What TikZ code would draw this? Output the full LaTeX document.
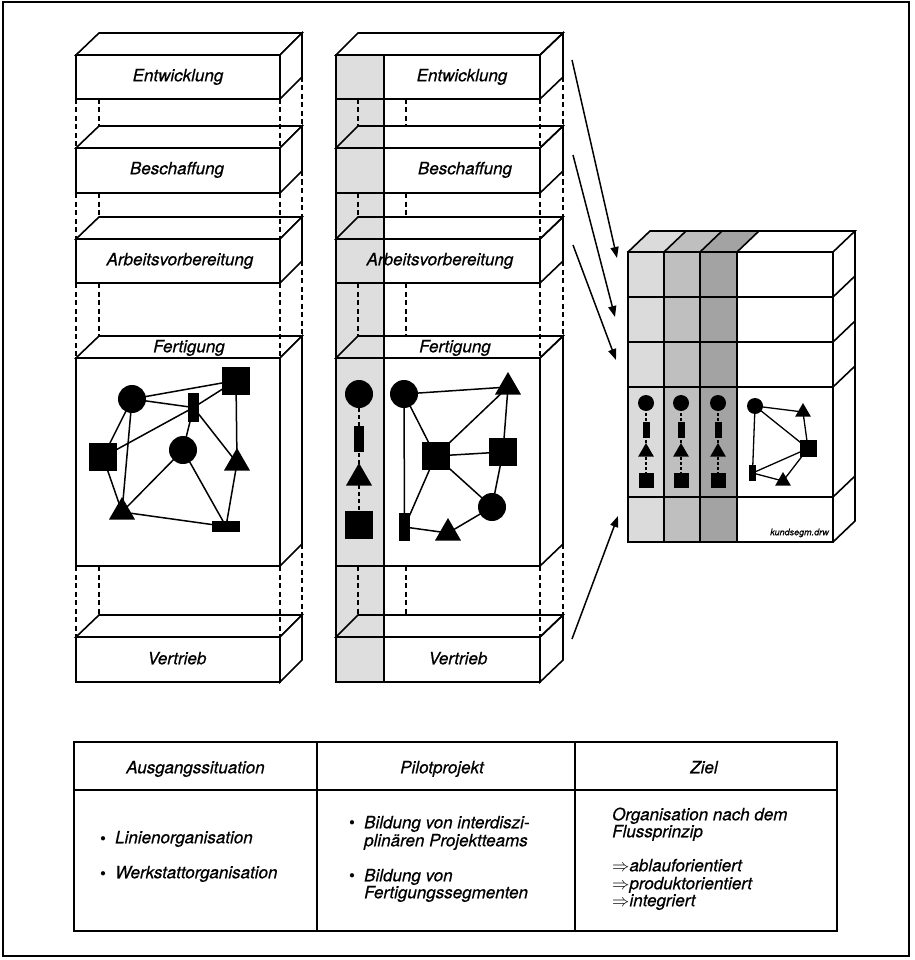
\documentclass[tikz,border=0pt]{standalone}
\usepackage{fontspec}
\setmainfont{TeX Gyre Heros}[FakeBold=0.6]
\usetikzlibrary{shapes.geometric,arrows.meta}
\definecolor{stripgray}{gray}{0.87}
\definecolor{segA}{gray}{0.86}
\definecolor{segB}{gray}{0.75}
\definecolor{segC}{gray}{0.64}
\begin{document}
\begin{tikzpicture}[x=1pt,y=-1pt,
  lbl/.style={font=\fontsize{17}{20}\selectfont\itshape, inner sep=0pt, text height=12.5pt, text depth=4pt},
  txt/.style={lbl, anchor=west},
  bul/.style={inner sep=0pt, font=\fontsize{11}{12}\selectfont},
  outline/.style={line width=1.6pt, line join=miter},
  hid/.style={line width=1.2pt, dash pattern=on 5pt off 3.5pt},
  edge/.style={line width=1.5pt},
  blob/.style={fill=black, draw=none, inner sep=0pt, outer sep=0pt},
  circ/.style={blob, circle, minimum size=#1},
  rct/.style 2 args={blob, rectangle, minimum width=#1, minimum height=#2},
  tri/.style={blob, regular polygon, regular polygon sides=3, minimum size=#1},
  arr/.style={line width=1.5pt, -{Triangle[length=11pt,width=8pt]}},
  chainline/.style={line width=1.3pt, dash pattern=on 4pt off 3pt},
]
\useasboundingbox (0,0) rectangle (914,960);
\draw[line width=1.8pt] (3,2) rectangle (909,956);

% ---------- left column ----------
\foreach \t/\b in {55/99,148/193,239/283,358/566,637/682}{
  \draw[outline, fill=white] (76,\t) rectangle (280,\b);
  \draw[outline, fill=white] (76,\t) -- (99,\t-22) -- (302,\t-22) -- (280,\t) -- cycle;
  \draw[outline, fill=white] (280,\t) -- (302,\t-22) -- (302,\b-22) -- (280,\b) -- cycle;
}
\foreach \b/\n in {99/148,193/239,283/358,566/637}{
  \draw[hid] (76,\b) -- (76,\n);
  \draw[hid] (99,\b) -- (99,\n-22);
  \draw[hid] (280,\b) -- (280,\n);
  \draw[hid] (302,\b-22) -- (302,\n-22);
}
\node[lbl] (lEnt) at (178,77) {Entwicklung};
\node[lbl] (lBes) at (177,170) {Beschaffung};
\node[lbl] (lArb) at (180,261) {Arbeitsvorbereitung};
\node[lbl] (lFer) at (189,348) {Fertigung};
\node[lbl] (lVer) at (177,660) {Vertrieb};

% left network
\node[circ=28] (lA) at (132,399) {};
\node[rct={11}{29}] (lB) at (193.5,407.5) {};
\node[rct={28}{28}] (lC) at (236,380.5) {};
\node[rct={28}{28}] (lD) at (103,457) {};
\node[circ=28] (lE) at (183,450) {};
\node[tri=30] (lF) at (237,463) {};
\node[tri=30] (lG) at (122,512) {};
\node[rct={28}{11}] (lH) at (226,526.5) {};
\foreach \u/\v in {lA/lC,lA/lB,lA/lD,lA/lG,lD/lB,lB/lC,lB/lE,lB/lF,lC/lF,lE/lG,lE/lH,lD/lG,lG/lH,lH/lF}
  \draw[edge] (\u.center) -- (\v.center);

% ---------- middle column ----------
\foreach \t/\b in {55/99,148/193,239/283,358/566,637/682}{
  \fill[white] (336,\t) rectangle (540,\b);
  \fill[white] (336,\t) -- (358,\t-22) -- (563,\t-22) -- (540,\t) -- cycle;
  \fill[white] (540,\t) -- (563,\t-22) -- (563,\b-22) -- (540,\b) -- cycle;
}
\fill[stripgray] (336,55) rectangle (384,682);
\foreach \t/\b in {55/99,148/193,239/283,358/566,637/682}{
  \draw[outline] (336,\t) rectangle (540,\b);
  \draw[outline] (336,\t) -- (358,\t-22) -- (563,\t-22) -- (540,\t) -- cycle;
  \draw[outline] (540,\t) -- (563,\t-22) -- (563,\b-22) -- (540,\b) -- cycle;
}
\draw[outline] (336,55) -- (336,682);
\draw[outline] (384,55) -- (384,682);
\foreach \b/\n in {99/148,193/239,283/358,566/637}{
  \draw[hid] (358,\b) -- (358,\n-22);
  \draw[hid] (406,\b) -- (406,\n-22);
  \draw[hid] (540,\b) -- (540,\n);
  \draw[hid] (563,\b-22) -- (563,\n-22);
}
\node[lbl] (mEnt) at (462,77) {Entwicklung};
\node[lbl] (mBes) at (465,170) {Beschaffung};
\node[lbl] (mArb) at (440,261) {Arbeitsvorbereitung};
\node[lbl] (mFer) at (455,348) {Fertigung};
\node[lbl] (mVer) at (458,660) {Vertrieb};

% strip chain
\node[circ=28] (sA) at (359,394) {};
\node[rct={10}{26}] (sB) at (359,439) {};
\node[tri=30] (sC) at (359,478) {};
\node[rct={28}{28}] (sD) at (359,524.5) {};
\foreach \u/\v in {sA/sB,sB/sC,sC/sD}
  \draw[chainline] (\u.center) -- (\v.center);

% middle network
\node[circ=28] (mA) at (404,394) {};
\node[tri=30] (mB) at (508,387) {};
\node[rct={28}{28}] (mC) at (435.5,456) {};
\node[rct={28}{28}] (mD) at (503,452) {};
\node[circ=28] (mE) at (492,507) {};
\node[rct={11}{28}] (mF) at (404.5,527) {};
\node[tri=30] (mG) at (448,533) {};
\foreach \u/\v in {mA/mB,mA/mF,mA/mC,mC/mB,mC/mD,mC/mF,mC/mE,mB/mD,mD/mE,mE/mG,mG/mF}
  \draw[edge] (\u.center) -- (\v.center);

% ---------- right block ----------
\fill[white] (628,252) rectangle (833,542);
\fill[segA] (628,252) rectangle (664,542);
\fill[segB] (664,252) rectangle (700,542);
\fill[segC] (700,252) rectangle (737,542);
\fill[white] (628,252) -- (650,231) -- (855,231) -- (833,252) -- cycle;
\fill[segA] (628,252) -- (650,231) -- (686,231) -- (664,252) -- cycle;
\fill[segB] (664,252) -- (686,231) -- (722,231) -- (700,252) -- cycle;
\fill[segC] (700,252) -- (722,231) -- (759,231) -- (737,252) -- cycle;
\fill[white] (833,252) -- (855,231) -- (855,521) -- (833,542) -- cycle;
\draw[outline] (628,252) rectangle (833,542);
\draw[outline] (628,252) -- (650,231) -- (855,231) -- (833,252);
\draw[outline] (855,231) -- (855,521) -- (833,542);
\foreach \y in {297,342,387,497}
  \draw[outline] (628,\y) -- (833,\y) -- (855,\y-21);
\foreach \x in {664,700,737}{
  \draw[outline] (\x,252) -- (\x,542);
  \draw[outline] (\x,252) -- (\x+22,231);
}
\foreach \x [count=\i] in {646,681,718}{
  \node[circ=16] (k\i-a) at (\x,403) {};
  \node[rct={7}{16}] (k\i-b) at (\x,430) {};
  \node[tri=18] (k\i-c) at (\x,452) {};
  \node[rct={15}{15}] (k\i-d) at (\x,480.5) {};
  \draw[chainline, dash pattern=on 3pt off 2pt] (k\i-a.center) -- (k\i-b.center);
  \draw[chainline, dash pattern=on 3pt off 2pt] (k\i-b.center) -- (k\i-c.center);
  \draw[chainline, dash pattern=on 3pt off 2pt] (k\i-c.center) -- (k\i-d.center);
}
\node[circ=16] (rA) at (755,406) {};
\node[tri=18] (rB) at (803,412) {};
\node[rct={17}{17}] (rC) at (808,448.5) {};
\node[rct={7}{16}] (rD) at (752.5,473) {};
\node[tri=18] (rE) at (783,481) {};
\foreach \u/\v in {rA/rB,rA/rC,rA/rD,rB/rC,rC/rD,rC/rE,rD/rE}
  \draw[edge, line width=1.3pt] (\u.center) -- (\v.center);
\node[font=\fontsize{9}{10}\selectfont\itshape, anchor=east, inner sep=0pt] (fname) at (829,533) {kundsegm.drw};

% ---------- arrows ----------
\coordinate (a1s) at (572,60);  \coordinate (a1e) at (617,258);
\coordinate (a2s) at (573,155); \coordinate (a2e) at (615,317);
\coordinate (a3s) at (573,245); \coordinate (a3e) at (616,360);
\coordinate (a4s) at (572,639); \coordinate (a4e) at (618,516);
\draw[arr] (a1s) -- (a1e);
\draw[arr] (a2s) -- (a2e);
\draw[arr] (a3s) -- (a3e);
\draw[arr] (a4s) -- (a4e);

% ---------- table ----------
\draw[line width=1.7pt] (74,742) rectangle (837,931);
\draw[line width=1.5pt] (74,790) -- (837,790);
\draw[line width=1.5pt] (317,742) -- (317,931);
\draw[line width=1.5pt] (575,742) -- (575,931);
\node[lbl] (h1) at (195.5,769) {Ausgangssituation};
\node[lbl] (h2) at (442,769) {Pilotprojekt};
\node[lbl] (h3) at (704,769) {Ziel};
\node[bul] (b1) at (103,839) {$\bullet$};
\node[bul] (b2) at (103,874) {$\bullet$};
\node[bul] (b3) at (352,823) {$\bullet$};
\node[bul] (b4) at (352,876) {$\bullet$};
\node[txt] (t1) at (115,839) {Linienorganisation};
\node[txt] (t2) at (115,874) {Werkstattorganisation};
\node[txt] (t3) at (364,824) {Bildung von interdiszi-};
\node[txt] (t4) at (364,842) {plinären Projektteams};
\node[txt] (t5) at (364,877) {Bildung von};
\node[txt] (t6) at (364,894) {Fertigungssegmenten};
\node[txt] (t7) at (612,816) {Organisation nach dem};
\node[txt] (t8) at (612,833) {Flussprinzip};
\node[txt] (t9) at (612,867) {$\Rightarrow$ablauforientiert};
\node[txt] (t10) at (612,885) {$\Rightarrow$produktorientiert};
\node[txt] (t11) at (612,902) {$\Rightarrow$integriert};
\end{tikzpicture}
\end{document}
